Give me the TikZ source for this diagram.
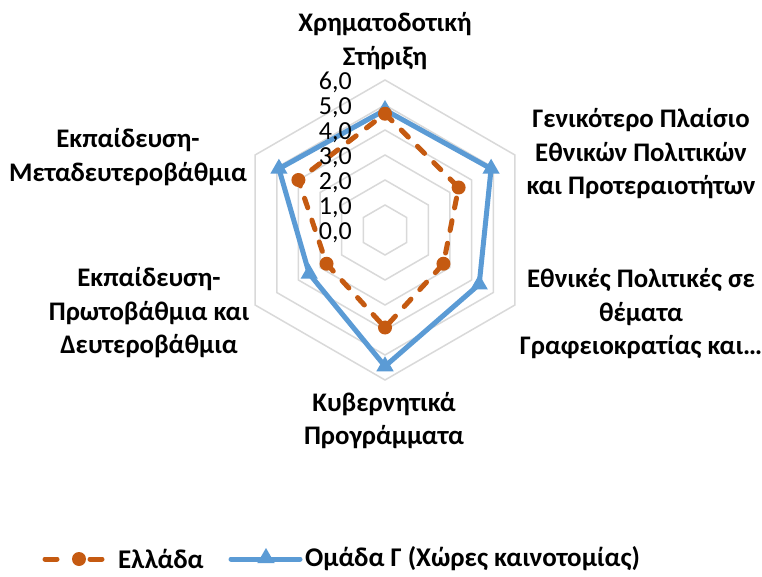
\documentclass[tikz,border=0pt]{standalone}
\usepackage{fontspec}
\setmainfont{Carlito}
\usetikzlibrary{shapes.geometric}
\definecolor{grorange}{HTML}{C55A11}
\definecolor{gcblue}{HTML}{5B9BD5}
\definecolor{gridgray}{HTML}{D9D9D9}
\begin{document}
\begin{tikzpicture}[x=1pt,y=1pt,
  gridline/.style={draw=gridgray, line width=1.5pt, line join=miter},
  cat/.style={font=\fontsize{26.8}{33.5}\selectfont\bfseries, align=center, inner sep=0pt},
  ticklabel/.style={font=\fontsize{26}{26}\selectfont, anchor=east, inner sep=0pt},
  legtext/.style={font=\fontsize{27}{30}\selectfont\bfseries, anchor=west, inner sep=0pt},
  greece/.style={draw=grorange, line width=5pt, dash pattern=on 10pt off 13pt, line cap=round, line join=round},
  groupc/.style={draw=gcblue, line width=5pt, line join=round, line cap=round},
  omark/.style={circle, fill=grorange, minimum size=14pt, inner sep=0pt},
  bmark/.style={regular polygon, regular polygon sides=3, fill=gcblue, minimum size=20pt, inner sep=0pt}
]
\fill[white] (0,0) rectangle (762,576);
\useasboundingbox (0,0) rectangle (762,576);

\begin{scope}[shift={(385,346)}]
  \coordinate (O) at (0,0);
  % grid
  \foreach \r in {1,...,6}
    \draw[gridline] (90:{25*\r}) -- (30:{25*\r}) -- (-30:{25*\r}) -- (-90:{25*\r}) -- (210:{25*\r}) -- (150:{25*\r}) -- cycle;
  % data points
  \foreach \a/\v [count=\i] in {90/4.8,30/4.9,-30/4.35,-90/5.45,210/3.5,150/4.9}
    \coordinate (b\i) at (\a:{25*\v});
  \foreach \a/\v [count=\i] in {90/4.65,30/3.4,-30/2.7,-90/3.9,210/2.7,150/4.0}
    \coordinate (g\i) at (\a:{25*\v});
  % series Omada G
  \draw[groupc] (b1) -- (b2) -- (b3) -- (b4) -- (b5) -- (b6) -- cycle;
  \foreach \i in {1,...,6} \node[bmark] (bm\i) at (b\i) {};
  % series Greece
  \draw[greece] (g1) -- (g2) -- (g3) -- (g4) -- (g5) -- (g6) -- cycle;
  \foreach \i in {1,...,6} \node[omark] (gm\i) at (g\i) {};
  % tick labels
  \foreach \v in {0,...,6}
    \node[ticklabel] (t\v) at (-33,{25*\v-2.5}) {\v,0};
\end{scope}

% category labels
\node[cat] (c1) at (385,535) {Χρηματοδοτική\\Στήριξη};
\node[cat] (c2) at (641,422) {Γενικότερο Πλαίσιο\\Εθνικών Πολιτικών\\και Προτεραιοτήτων};
\node[cat] (c3) at (641,262) {Εθνικές Πολιτικές σε\\θέματα\\Γραφειοκρατίας και…};
\node[cat] (c4) at (384,155.5) {Κυβερνητικά\\Προγράμματα};
\node[cat] (c5) at (149,263) {Εκπαίδευση-\\Πρωτοβάθμια και\\Δευτεροβάθμια};
\node[cat] (c6) at (128,419) {Εκπαίδευση-\\Μεταδευτεροβάθμια};

% legend
\coordinate (la) at (45,17);
\coordinate (lb) at (102,17);
\draw[draw=grorange, line width=5pt, line cap=round, dash pattern=on 12pt off 33pt] (la) -- (lb);
\node[omark] (lgm) at (79,17) {};
\node[legtext] (lg) at (118,17) {Ελλάδα};
\coordinate (lc) at (231,17);
\coordinate (ld) at (300,17);
\draw[groupc] (lc) -- (ld);
\node[bmark] (lbm) at (266,18) {};
\node[legtext] (lbt) at (305,17) {Ομάδα Γ (Χώρες καινοτομίας)};
\end{tikzpicture}
\end{document}
